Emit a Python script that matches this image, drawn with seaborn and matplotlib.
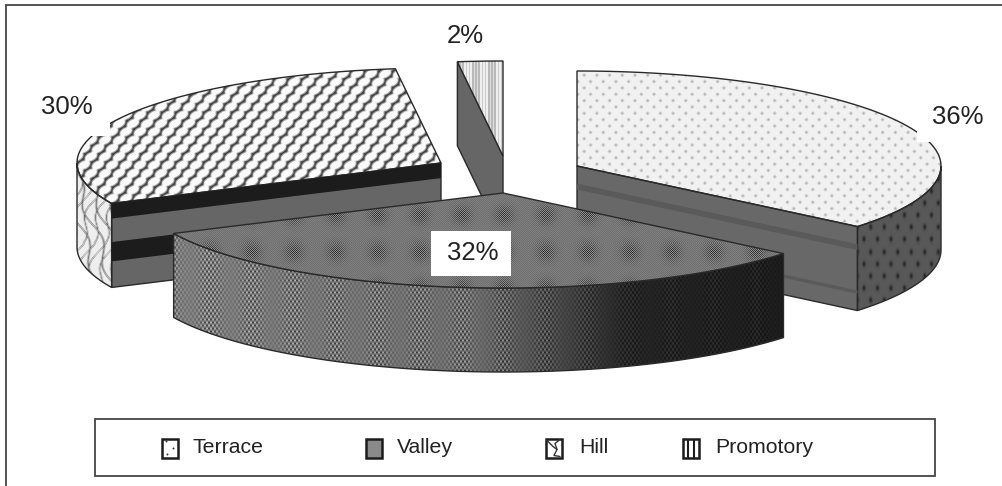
import numpy as np
import matplotlib
matplotlib.use("Agg")
import matplotlib.pyplot as plt
from matplotlib.patches import Polygon, Rectangle
import seaborn as sns

# Share of sites per landform
categories = ["Terrace", "Valley", "Hill", "Promotory"]
shares = [36, 32, 30, 2]

W, H = 1003, 486
RX, RY, DEPTH = 364, 95, 84

sns.set_theme(style="white")
plt.rcParams["font.family"] = ["Liberation Sans", "DejaVu Sans"]
TEXT = "#222222"
EDGE = "#2a2a2a"

fig = plt.figure(figsize=(W / 100, H / 100), dpi=100)
ax = fig.add_axes([0, 0, 1, 1])
ax.set_xlim(0, W)
ax.set_ylim(H, 0)
sns.despine(ax=ax, left=True, bottom=True, top=True, right=True)
ax.set_xticks([])
ax.set_yticks([])

X, Y = np.meshgrid(np.arange(W) + 0.5, np.arange(H) + 0.5)


def soften(a):
    return (a + np.roll(a, 1, 0) + np.roll(a, -1, 0) + np.roll(a, 1, 1) + np.roll(a, -1, 1)) / 5


def lattice(dx, dy, stagger=True):
    k = np.round(Y / dy)
    shift = k * 0.5 if stagger else 0
    u = X / dx - shift
    return dx * (u - np.round(u)), Y - k * dy


def dots_fine():
    ox, oy = lattice(12.7, 6.35)
    return soften(241 - 125 * np.exp(-(ox ** 2 + oy ** 2) / 1.1))


def dots_coarse():
    ox, oy = lattice(13.5, 12.0)
    return soften(88 - 65 * np.exp(-(ox ** 2 / 1.8 + oy ** 2 / 7.0)))


def scales():
    # Overlapping fish-scale cells on a staggered grid
    dx, dy = 14.0, 8.3
    best = np.full(X.shape, 9.0)
    base = np.round(Y / dy)
    for off in (-1, 0, 1):
        k = base + off
        ox = X / dx - k * 0.5
        ox = dx * (ox - np.round(ox))
        oy = Y - k * dy + 0.28 * ox
        best = np.minimum(best, np.sqrt((ox / 7.0) ** 2 + (oy / 4.9) ** 2))
    return soften(np.clip(60 + (0.97 - best) * 1500, 60, 250))


def squiggles():
    a = np.abs(np.sin((X + 5 * np.sin(Y / 8.0) + 0.35 * Y) * np.pi / 11))
    b = np.abs(np.sin((X - 5 * np.sin(Y / 9.0) - 0.35 * Y) * np.pi / 14))
    line = np.exp(-(np.minimum(a, b) / 0.13) ** 2)
    return soften(238 - 190 * line)


def dither_top():
    ox, oy = lattice(42.0, 36.0, stagger=False)
    cluster = np.exp(-(ox ** 2 + oy ** 2) / 90.0)
    checker = (-1.0) ** (np.floor(X) + np.floor(Y))
    return soften(120 - 25 * cluster + (10 + 75 * cluster) * checker)


def dither_rim():
    base = np.interp(X, [170, 470, 560, 630, 783], [125, 108, 70, 36, 28])
    ox, _ = lattice(42.0, 1e6, stagger=False)
    column = np.exp(-(ox / 12.0) ** 2)
    # Brick-like cells, four pixels wide, shifted every third row
    cell = np.sin(X * np.pi / 2.0 + np.pi * np.floor(Y / 3.0))
    amp = (18 + 120 * column) * (base / 125.0)
    return soften(np.clip(base + amp * cell, 12, 250))


def stripes():
    return soften(212 + 45 * np.sign(np.sin(X * 2 * np.pi / 3.2)))


def point(cx, cy, deg):
    t = np.radians(deg)
    return cx + RX * np.sin(t), cy - RY * np.cos(t)


def arc(cx, cy, d0, d1, n=120):
    t = np.radians(np.linspace(d0, d1, n))
    return np.column_stack([cx + RX * np.sin(t), cy - RY * np.cos(t)])


def fill(verts, tex=None, color=None, z=1, lw=1.0):
    """Paint a polygon flat, or with a grey texture clipped to its outline."""
    if tex is None:
        ax.add_patch(Polygon(verts, closed=True, fc=color, ec=EDGE, lw=lw, zorder=z))
        return
    clip = Polygon(verts, closed=True, fc="none", ec=EDGE, lw=lw, zorder=z + 0.01)
    ax.add_patch(clip)
    im = ax.imshow(tex, cmap="gray", vmin=0, vmax=255, extent=(0, W, H, 0),
                   interpolation="nearest", zorder=z, aspect="auto")
    im.set_clip_path(clip)


def top(cx, cy, d0, d1, tex, z):
    fill(np.vstack([[cx, cy], arc(cx, cy, d0, d1)]), tex=tex, z=z)


def rim(cx, cy, d0, d1, tex, z):
    a = arc(cx, cy, d0, d1)
    fill(np.vstack([a, (a + [0, DEPTH])[::-1]]), tex=tex, z=z)


def cut_face(cx, cy, deg):
    px, py = point(cx, cy, deg)
    return np.array([[cx, cy], [px, py], [px, py + DEPTH], [cx, cy + DEPTH]])


def band(face, f0, f1, color, z):
    """A strip of a cut face, between two fractions of the slab height."""
    (x0, y0), (x1, y1) = face[0], face[1]
    verts = [[x0, y0 + f0 * DEPTH], [x1, y1 + f0 * DEPTH], [x1, y1 + f1 * DEPTH], [x0, y0 + f1 * DEPTH]]
    ax.add_patch(Polygon(verts, closed=True, fc=color, ec="none", zorder=z))


bounds = np.cumsum([0] + shares) * 3.6

# Rule along the top and left of the figure
ax.plot([6, 6, W], [H, 5, 5], color="#444444", lw=1.3, zorder=0, solid_joinstyle="miter")

# Promotory slice, furthest back
pc = (503, 156)
fill(cut_face(*pc, bounds[3]), color="#666666", z=2)
top(*pc, bounds[3], bounds[4], stripes(), 2.5)

# Hill slice
hc = (441, 163)
top(*hc, bounds[2], bounds[3], scales(), 3)
rim(*hc, bounds[2], 270, squiggles(), 3)
hf = cut_face(*hc, bounds[2])
fill(hf, color="#666666", z=3)
band(hf, 0.0, 0.18, "#1c1c1c", 3.1)
band(hf, 0.46, 0.69, "#1c1c1c", 3.1)

# Terrace slice
tc = (577, 166)
top(*tc, bounds[0], bounds[1], dots_fine(), 4)
rim(*tc, 90, bounds[1], dots_coarse(), 4)
tf = cut_face(*tc, bounds[1])
fill(tf, color="#686868", z=4)
band(tf, 0.21, 0.28, "#5a5a5a", 4.1)
band(tf, 0.76, 0.80, "#5a5a5a", 4.1)

# Valley slice, in front of the others
vc = (503, 193)
rim(*vc, bounds[1], bounds[2], dither_rim(), 5)
top(*vc, bounds[1], bounds[2], dither_top(), 5.5)

# Percentage labels on white boxes
label_pos = {"Terrace": (958, 117), "Valley": (473, 253), "Hill": (67, 107), "Promotory": (465, 36)}
label_box = {"Terrace": (917, 97, 84, 45), "Valley": (431, 231, 80, 45),
             "Hill": (28, 91, 82, 45), "Promotory": (431, 14, 68, 45)}
for name, value in zip(categories, shares):
    ax.add_patch(Rectangle(label_box[name][:2], *label_box[name][2:], fc="white", ec="none", zorder=7))
    ax.text(*label_pos[name], f"{value}%", fontsize=18.5, color=TEXT, ha="center", va="center", zorder=8)

# Legend
ax.add_patch(Rectangle((95, 419), 840, 57, fc="white", ec="#444444", lw=1.3, zorder=6))
swatch_x = [162, 366, 546, 683]
text_x = [193, 397, 579, 715]
SW, SH, SY = 16, 19, 438.5
for name, sx, tx in zip(categories, swatch_x, text_x):
    fc = "#8a8a8a" if name == "Valley" else "white"
    ax.add_patch(Rectangle((sx, SY), SW, SH, fc=fc, ec="#1c1c1c", lw=1.8, zorder=7))
    if name == "Terrace":
        ax.scatter([sx + 4, sx + 11, sx + 5], [SY + 2, SY + 9, SY + 15], s=2, color="#333333", linewidths=0, zorder=7.5)
    elif name == "Hill":
        ax.plot([sx + 1, sx + 7, sx + 11, sx + 8, sx + 14], [SY + 2, SY + 8, SY + 11, SY + 17, SY + 18],
                color="#333333", lw=1.0, zorder=7.5)
        ax.plot([sx + 14, sx + 9, sx + 11], [SY + 1, SY + 5, SY + 11], color="#333333", lw=1.0, zorder=7.5)
    elif name == "Promotory":
        ax.vlines([sx + SW / 3, sx + 2 * SW / 3], SY, SY + SH, color="#1c1c1c", lw=1.5, zorder=7.5)
    ax.text(tx, 447.5, name, fontsize=15.3, color=TEXT, ha="left", va="center", zorder=8)

fig.savefig("out.png", dpi=100)
